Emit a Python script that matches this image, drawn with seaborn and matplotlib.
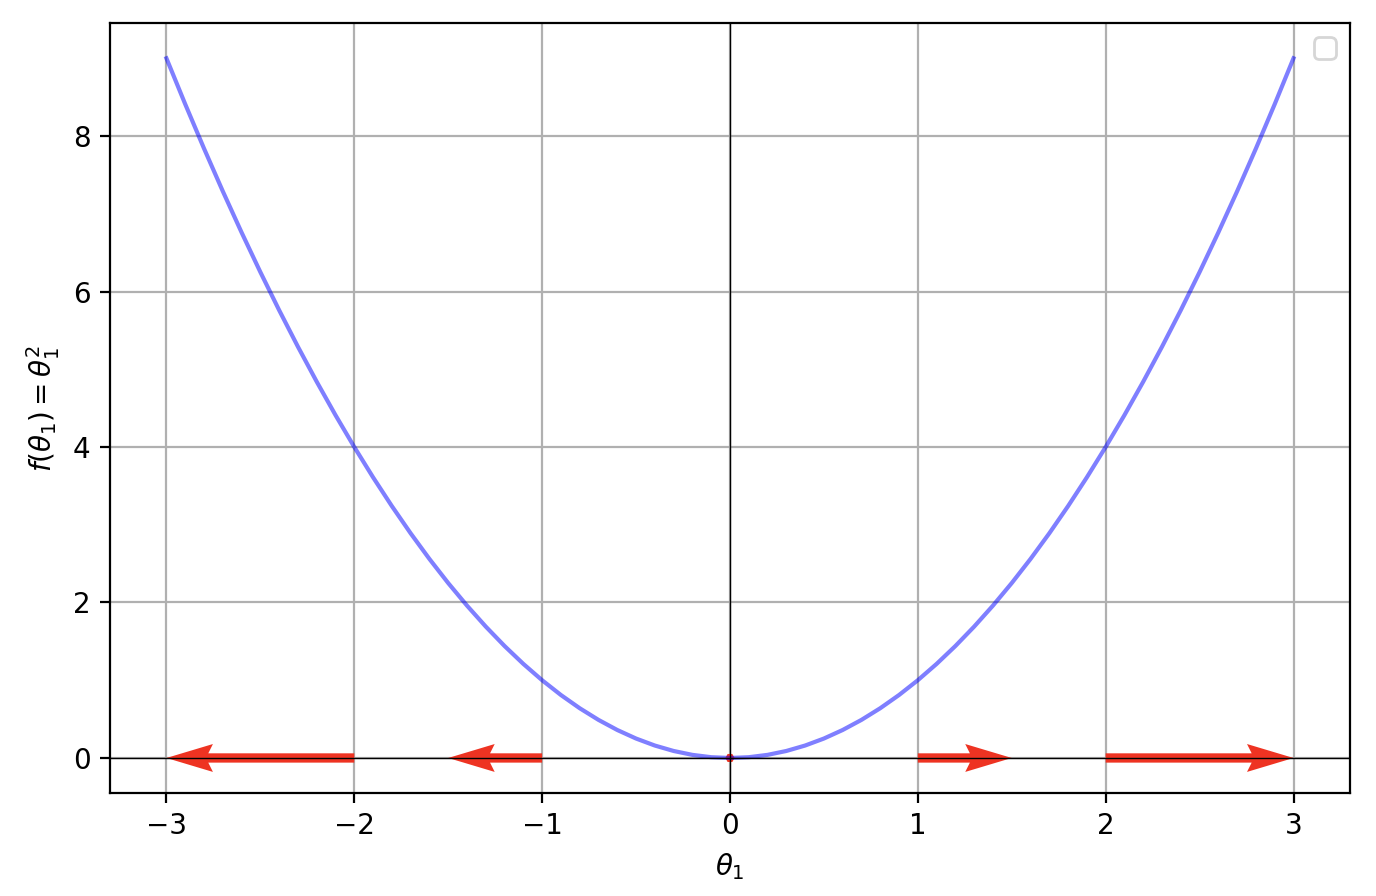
import numpy as np
import pandas as pd
import matplotlib
matplotlib.use("Agg")
import matplotlib.pyplot as plt
import seaborn as sns

# curve f(theta) = theta^2 (step 0.1)
THETA = [-3.0, -2.9, -2.8, -2.7, -2.6, -2.5, -2.4, -2.3, -2.2, -2.1,
         -2.0, -1.9, -1.8, -1.7, -1.6, -1.5, -1.4, -1.3, -1.2, -1.1,
         -1.0, -0.9, -0.8, -0.7, -0.6, -0.5, -0.4, -0.3, -0.2, -0.1,
         0.0, 0.1, 0.2, 0.3, 0.4, 0.5, 0.6, 0.7, 0.8, 0.9,
         1.0, 1.1, 1.2, 1.3, 1.4, 1.5, 1.6, 1.7, 1.8, 1.9,
         2.0, 2.1, 2.2, 2.3, 2.4, 2.5, 2.6, 2.7, 2.8, 2.9, 3.0]
F_THETA = [9.00, 8.41, 7.84, 7.29, 6.76, 6.25, 5.76, 5.29, 4.84, 4.41,
           4.00, 3.61, 3.24, 2.89, 2.56, 2.25, 1.96, 1.69, 1.44, 1.21,
           1.00, 0.81, 0.64, 0.49, 0.36, 0.25, 0.16, 0.09, 0.04, 0.01,
           0.00, 0.01, 0.04, 0.09, 0.16, 0.25, 0.36, 0.49, 0.64, 0.81,
           1.00, 1.21, 1.44, 1.69, 1.96, 2.25, 2.56, 2.89, 3.24, 3.61,
           4.00, 4.41, 4.84, 5.29, 5.76, 6.25, 6.76, 7.29, 7.84, 8.41, 9.00]

# arrows along theta axis
ARROW_X  = [-2, -1, 0, 1, 2]
ARROW_Y  = [0, 0, 0, 0, 0]
ARROW_DX = [-1.0, -0.5, 0.0, 0.5, 1.0]
ARROW_DY = [0, 0, 0, 0, 0]

ARROW_COLOR = "#ee3322"

df = pd.DataFrame({"theta": THETA, "f": F_THETA})

fig, ax = plt.subplots(figsize=(6.88, 4.48), dpi=200)
fig.subplots_adjust(left=0.080, right=0.981, top=0.974, bottom=0.115)

sns.lineplot(data=df, x="theta", y="f", ax=ax, color="blue", alpha=0.5,
             linewidth=1.5, sort=False)

ax.quiver(ARROW_X, ARROW_Y, ARROW_DX, ARROW_DY, angles="xy", scale_units="xy",
          scale=1, color=ARROW_COLOR)

ax.axhline(0, color="black", linewidth=0.5)
ax.axvline(0, color="black", linewidth=0.5)

ax.set_xlim(-3.3, 3.3)
ax.set_ylim(-0.45, 9.45)
ax.set_xticks([-3, -2, -1, 0, 1, 2, 3])
ax.set_yticks([0, 2, 4, 6, 8])
ax.grid(True, color="#b0b0b0", linewidth=0.8)
ax.set_axisbelow(True)

ax.set_xlabel(r"$\theta_1$")
ax.set_ylabel(r"$f(\theta_1) = \theta_1^2$")
ax.legend(handles=[], labels=[], loc="upper right")

fig.savefig("out.png", dpi=200)
